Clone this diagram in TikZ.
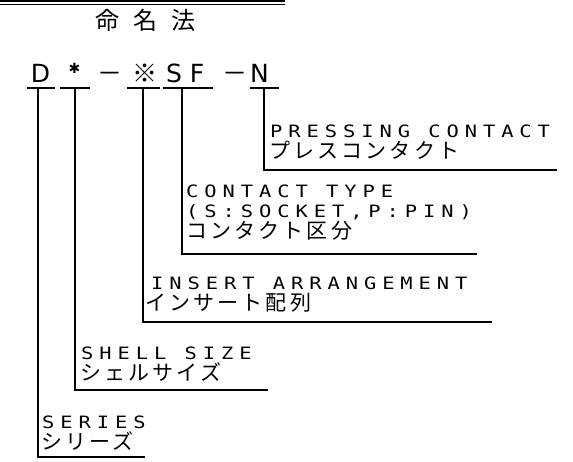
\documentclass[tikz,border=0pt]{standalone}
\usepackage{fontspec}
\setmainfont{DejaVu Sans}
\newfontfamily\latf[FakeStretch=1.2,LetterSpace=35]{DejaVu Sans Mono}
\newfontfamily\jpf[LetterSpace=15]{Noto Sans CJK JP}
\newfontfamily\ttlf[LetterSpace=60]{Noto Sans CJK JP}
\newfontfamily\jpplain{Noto Sans CJK JP}
\begin{document}
\begin{tikzpicture}[x=1pt,y=-1pt,
  lat/.style={anchor=base west,inner sep=0pt,font=\latf\fontsize{17}{20}\selectfont},
  jap/.style={anchor=base west,inner sep=0pt,font=\jpf\fontsize{21}{22}\selectfont},
  code/.style={anchor=base,inner sep=0pt,font=\fontsize{25}{28}\selectfont},
  codej/.style={anchor=base,inner sep=0pt,font=\jpplain\fontsize{25}{28}\selectfont},
  ln/.style={line width=1.4pt}]
\useasboundingbox (0,0) rectangle (573,461);
% top double rule
\draw[line width=2.4pt] (0,1.2) -- (285,1.2);
\draw[line width=1pt] (0,4.5) -- (285,4.5);
\node[anchor=base west,inner sep=0pt,font=\ttlf\fontsize{24}{26}\selectfont] (title) at (95,29) {命名法};
% code line
\node[code] (cD) at (40.5,82) {D};
\node[anchor=center,inner sep=0pt,font=\fontsize{14}{16}\selectfont] (cA) at (74.5,68.5) {✱};
\node[codej] (cM1) at (110,82) {－};
\node[codej] (cR) at (145,82) {※};
\node[code] (cS) at (174,82) {S};
\node[code] (cF) at (197,82) {F};
\node[codej] (cM2) at (235,82) {－};
\node[code] (cN) at (259.5,82) {N};
% bars
\coordinate (bD1) at (27,88); \coordinate (bD2) at (55,88); \coordinate (vD) at (38,88);
\coordinate (bA1) at (60,88); \coordinate (bA2) at (90,88); \coordinate (vA) at (75,88);
\coordinate (bR1) at (127,88); \coordinate (bR2) at (160,88); \coordinate (vR) at (143,88);
\coordinate (bS1) at (163,88); \coordinate (bS2) at (213,88); \coordinate (vS) at (182,88);
\coordinate (bN1) at (250,88); \coordinate (bN2) at (279,88); \coordinate (vN) at (264,88);
\foreach \a/\b in {bD1/bD2,bA1/bA2,bR1/bR2,bS1/bS2,bN1/bN2} \draw[ln] (\a) -- (\b);
% ends
\coordinate (eN) at (557,170);
\coordinate (eS) at (477,254);
\coordinate (eR) at (492,322);
\coordinate (eA) at (268,390);
\coordinate (eD) at (145,457);
\draw[ln] (vN) |- (eN);
\draw[ln] (vS) |- (eS);
\draw[ln] (vR) |- (eR);
\draw[ln] (vA) |- (eA);
\draw[ln] (vD) |- (eD);
% labels
\node[lat] (lN1) at (270,137) {PRESSING CONTACT};
\node[jap] (lN2) at (269,158) {プレスコンタクト};
\node[lat] (lS1) at (186,197) {CONTACT TYPE};
\node[lat] (lS2) at (186,217) {(S:SOCKET,P:PIN)};
\node[jap] (lS3) at (186,238) {コンタクト区分};
\node[lat] (lR1) at (151,289) {INSERT ARRANGEMENT};
\node[jap] (lR2) at (145,310) {インサート配列};
\node[lat] (lA1) at (81,359) {SHELL SIZE};
\node[jap] (lA2) at (80,380) {シェルサイズ};
\node[lat] (lD1) at (42,428) {SERIES};
\node[jap] (lD2) at (41,449) {シリーズ};
\end{tikzpicture}
\end{document}
